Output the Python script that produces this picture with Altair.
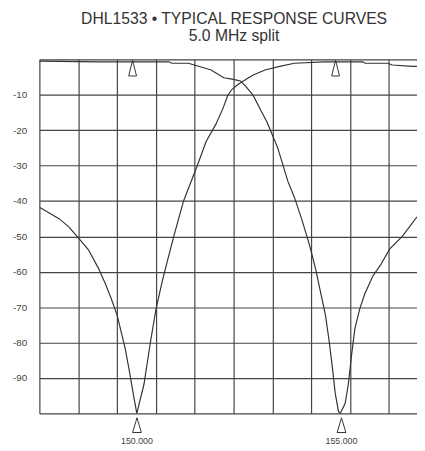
import altair as alt
import pandas as pd

# Curve 1 (notch at 150 MHz)
curve1_freq = [147.500, 147.753, 148.005, 148.258, 148.510, 148.763, 149.015, 149.184, 149.351,
               149.503, 149.604, 149.705, 149.816, 149.917, 150.008, 150.194, 150.361, 150.505,
               150.657, 150.783, 150.960, 151.212, 151.566, 151.793, 152.045, 152.222, 152.348,
               152.449, 152.601, 152.803, 153.005, 153.308, 153.687, 154.066, 154.823, 155.833,
               155.884, 156.465, 156.591, 157.096, 157.222]
curve1_db = [-41.8, -43.4, -45.0, -47.3, -50.5, -53.8, -58.9, -63.0, -67.6,
             -72.3, -76.9, -81.5, -88.0, -94.5, -100.0, -91.7, -79.7, -70.4,
             -63.0, -57.5, -50.0, -40.0, -30.0, -23.2, -18.3, -14.0, -10.2,
             -8.6, -7.2, -5.8, -4.4, -3.0, -2.0, -1.1, -0.7, -0.7,
             -1.1, -1.1, -1.6, -2.0, -2.0]

# Curve 2 (notch at 155 MHz)
curve2_freq = [147.500, 149.015, 150.833, 150.909, 151.338, 151.490, 151.919, 152.247, 152.424,
               152.551, 152.677, 152.803, 153.005, 153.182, 153.359, 153.485, 153.636, 153.896,
               154.066, 154.235, 154.402, 154.487, 154.614, 154.740, 154.866, 154.949, 155.033,
               155.119, 155.202, 155.245, 155.371, 155.455, 155.538, 155.624, 155.750, 155.876,
               156.086, 156.288, 156.515, 156.843, 157.222]
curve2_db = [-0.5, -0.7, -0.7, -1.1, -1.1, -1.6, -3.0, -5.2, -5.5,
             -5.8, -6.1, -7.5, -10.2, -14.0, -17.7, -21.0, -25.0, -34.4,
             -39.0, -44.5, -50.5, -53.8, -59.3, -65.8, -72.3, -78.7, -86.1,
             -94.5, -99.5, -100.0, -97.2, -91.7, -83.4, -76.0, -70.4, -66.3,
             -61.2, -58.0, -53.6, -50.0, -44.5]

top_marker_freq = [149.90, 155.126]
bottom_marker_freq = [150.013, 155.278]
marker_labels = ["150.000", "155.000"]

x_grid = [147.5, 148.5, 149.5, 150.5, 151.5, 152.5, 153.5, 154.5, 155.5, 156.5]
y_grid = [0, -10, -20, -30, -40, -50, -60, -70, -80, -90, -100]

X_DOMAIN = [147.5, 157.222]
INK = "#333333"

df = pd.concat([
    pd.DataFrame({"freq": curve1_freq, "db": curve1_db, "curve": "A"}),
    pd.DataFrame({"freq": curve2_freq, "db": curve2_db, "curve": "B"}),
])
top_df = pd.DataFrame({"freq": top_marker_freq})
bot_df = pd.DataFrame({"freq": bottom_marker_freq, "label": marker_labels})

xscale = alt.Scale(domain=X_DOMAIN, nice=False, zero=False)
yscale = alt.Scale(domain=[-100, 0], nice=False, zero=False)

x_axis = alt.Axis(values=x_grid, labels=False, ticks=False, domain=False, grid=True, title=None)
y_axis = alt.Axis(values=y_grid, ticks=False, domain=False, grid=True, title=None,
                  labelExpr="datum.value == 0 || datum.value == -100 ? '' : '' + datum.value",
                  labelOverlap=False, labelPadding=13, labelFontSize=10,
                  labelColor="#444444", labelFont="Liberation Sans")

X = alt.X("freq:Q", scale=xscale, axis=x_axis)

lines = alt.Chart(df).mark_line(color=INK, strokeWidth=1.2, clip=True).encode(
    x=X,
    y=alt.Y("db:Q", scale=yscale, axis=y_axis),
    detail="curve:N",
)

top_markers = alt.Chart(top_df).mark_point(
    shape="M0,-1L0.5,1L-0.5,1Z", size=256, filled=False, color=INK, strokeWidth=1, yOffset=9, opacity=1
).encode(x=X, y=alt.YDatum(0, scale=yscale, axis=y_axis))

bot_markers = alt.Chart(bot_df).mark_point(
    shape="M0,-1L0.6,1L-0.6,1Z", size=225, filled=False, color=INK, strokeWidth=1, yOffset=12, opacity=1
).encode(x=X, y=alt.YDatum(-100, scale=yscale, axis=y_axis))

bot_labels = alt.Chart(bot_df).mark_text(
    fontSize=9, font="Liberation Sans", color="#444444", dy=31, baseline="alphabetic"
).encode(x=X, y=alt.YDatum(-100, scale=yscale, axis=y_axis), text="label:N")

chart = alt.layer(lines, top_markers, bot_markers, bot_labels).properties(
    width=385, height=361,
    autosize=alt.AutoSizeParams(type="none"),
    padding={"left": 32, "top": 48, "right": 0, "bottom": 34},
    title=alt.TitleParams(
        text=["DHL1533 \u2022 TYPICAL RESPONSE CURVES", "5.0 MHz split"],
        fontSize=16, font="Liberation Sans", fontWeight="normal", color=INK,
        anchor="middle", frame="group", dx=6, offset=11, lineHeight=17.5,
    ),
).configure_axis(
    gridColor="#444444", gridWidth=1.2, gridOpacity=1,
).configure_view(strokeWidth=0)

chart.save("out.html", embed_options={"renderer": "svg", "actions": False})
